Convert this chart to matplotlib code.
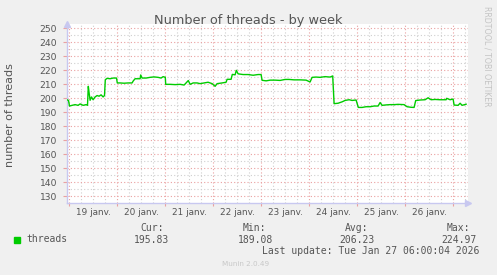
import matplotlib
matplotlib.use("Agg")
import matplotlib.pyplot as plt
from matplotlib.patches import Rectangle

# hours since 19 janv. 00:00
hours = [-1.2, -0.4, 0.1, 1.4, 2.9, 4.4, 5.4, 6.9, 8.4, 9.1, 9.5, 9.9, 10.4, 11.1, 11.9,
         12.9, 13.9, 14.9, 15.9, 16.9, 17.6, 18.0, 18.9, 20.4, 21.9, 23.6, 24.0, 25.4,
         27.4, 29.4, 31.4, 32.0, 32.9, 35.4, 35.7, 36.4, 38.4, 40.4, 42.4, 44.4, 45.9,
         46.9, 48.0, 48.2, 50.4, 52.9, 55.4, 57.4, 59.5, 60.4, 61.9, 63.9, 65.4, 67.4,
         69.4, 71.4, 72.9, 73.9, 76.4, 78.4, 78.9, 80.9, 81.5, 82.9, 83.5, 84.4, 86.9,
         89.4, 91.9, 94.4, 95.9, 96.4, 98.4, 100.4, 102.9, 105.4, 107.9, 109.9, 112.4,
         115.4, 118.4, 120.4, 121.4, 123.4, 125.4, 127.9, 130.4, 131.7, 132.4, 134.4,
         136.4, 137.9, 139.9, 141.4, 143.4, 144.5, 146.4, 148.4, 150.4, 152.4, 154.4,
         155.4, 156.4, 158.4, 160.4, 162.4, 164.4, 167.4, 168.9, 170.9, 172.4, 173.2,
         175.4, 177.9, 179.4, 180.9, 182.9, 185.4, 188.4, 188.7, 190.4, 191.9, 192.4,
         194.4, 195.4, 196.4, 198.4]
threads = [199.0, 198.5, 194.5, 195.0, 195.5, 195.0, 196.0, 195.0, 195.5, 195.0, 208.6, 204.0,
           198.6, 201.0, 199.0, 201.0, 202.0, 201.5, 202.5, 201.0, 202.0, 213.3, 214.3,
           214.0, 214.5, 214.5, 211.0, 211.0, 210.8, 211.0, 211.0, 212.5, 214.0, 214.0,
           216.7, 214.5, 214.5, 215.0, 215.3, 215.0, 214.5, 215.5, 215.0, 210.0, 210.0,
           209.8, 210.0, 209.5, 212.7, 210.0, 211.0, 211.0, 210.5, 211.0, 211.5, 210.5,
           208.6, 210.5, 211.0, 211.5, 213.6, 213.6, 217.1, 216.8, 220.0, 217.5, 217.0,
           217.0, 216.5, 217.0, 217.0, 212.9, 212.5, 213.0, 213.0, 212.8, 213.5, 213.5,
           213.2, 213.2, 213.0, 211.7, 215.0, 215.2, 215.0, 215.5, 215.2, 216.0, 196.2,
           196.5, 197.5, 198.5, 199.0, 198.5, 198.8, 193.5, 193.5, 194.0, 194.0, 194.5,
           194.5, 197.0, 195.0, 195.3, 195.5, 195.5, 195.7, 195.5, 194.0, 193.6, 193.5,
           198.4, 198.8, 199.0, 200.4, 199.0, 199.2, 199.0, 199.0, 200.0, 199.0, 199.5,
           195.2, 195.0, 196.5, 195.0, 195.8]

day_labels = ["19 janv.", "20 janv.", "21 janv.", "22 janv.", "23 janv.",
              "24 janv.", "25 janv.", "26 janv."]
y_ticks = list(range(130, 251, 10))

legend_name = "threads"
stat_names = ["Cur:", "Min:", "Avg:", "Max:"]
stat_values = ["195.83", "189.08", "206.23", "224.97"]
last_update = "Last update: Tue Jan 27 06:00:04 2026"

W, H = 497, 275
fig = plt.figure(figsize=(W / 100, H / 100), dpi=100, facecolor="#f0f0f0")


def fx(px):
    return px / W


def fy(py):
    return 1 - py / H


ax = fig.add_axes([fx(67), fy(203.3), fx(468.3) - fx(67), fy(24.3) - fy(203.3)])
ax.set_facecolor("white")
ax.set_xlim(-1.15, 199.5)
ax.set_ylim(125, 252.9)

red = "#eaa0a0"
grey = "#cfcfcf"
dots = (0, (1, 2))

# grid: grey every 6 h / 5 units, red at midnight / labelled values
for h in range(0, 200, 6):
    col = red if h % 24 == 0 else grey
    ax.axvline(h, color=col, lw=0.8, ls=dots, zorder=1)
for v in range(130, 253, 5):
    col = red if v % 10 == 0 else grey
    ax.axhline(v, color=col, lw=0.8, ls=dots, zorder=1)

ax.plot(hours, threads, color="#00cc00", lw=1, zorder=3)

for s in ["top", "right"]:
    ax.spines[s].set_visible(False)
for s in ["left", "bottom"]:
    ax.spines[s].set_color("#c8c8f0")
    ax.spines[s].set_linewidth(1)

ax.plot([0], [1.0], marker="^", ms=4, color="#c8c8f0", transform=ax.transAxes, clip_on=False)
ax.plot([1.0], [0], marker=">", ms=4, color="#c8c8f0", transform=ax.transAxes, clip_on=False)

ax.set_yticks(y_ticks)
ax.set_yticklabels([str(v) for v in y_ticks])
ax.tick_params(axis="y", length=3, color=red, pad=4, labelsize=6.6, labelcolor="#555555")

ax.set_xticks(range(0, 200, 24))
ax.set_xticklabels([])
ax.set_xticks([12 + 24 * i for i in range(len(day_labels))], minor=True)
ax.set_xticklabels(day_labels, minor=True)
ax.tick_params(axis="x", which="major", length=2.5, color=red)
ax.tick_params(axis="x", which="minor", length=0, pad=3.5, labelsize=6.4, labelcolor="#555555")

fig.text(0.5, fy(24), "Number of threads - by week", ha="center", va="baseline",
         fontsize=9.3, color="#555555")
fig.text(fx(10), fy(114.7), "number of threads", rotation=90, ha="center", va="center",
         fontsize=8, color="#555555")
fig.text(fx(487), fy(56), "RRDTOOL / TOBI OETIKER", rotation=270, ha="center", va="center",
         fontsize=5.7, color="#c4c4c4")

# legend block
fig.patches.append(Rectangle((fx(14), fy(242.5)), fx(6), fy(236.5) - fy(242.5),
                             transform=fig.transFigure, color="#00cc00"))
mono = "DejaVu Sans Mono"
fig.text(fx(26.7), fy(239.5), legend_name, family=mono, fontsize=7, color="#555555", va="center")
name_x = [140, 242.7, 345, 446.7]
value_x = [134, 237.7, 339, 441]
for nm, vl, nx, vx in zip(stat_names, stat_values, name_x, value_x):
    fig.text(fx(nx), fy(227.7), nm, family=mono, fontsize=7, color="#555555", va="center")
    fig.text(fx(vx), fy(239.7), vl, family=mono, fontsize=7, color="#555555", va="center")
fig.text(fx(261.7), fy(251), last_update, family=mono, fontsize=7, color="#555555", va="center")
fig.text(fx(222.3), fy(264), "Munin 2.0.49", fontsize=5.2, color="#c8c8c8", va="center")

fig.savefig("out.png", dpi=100, facecolor=fig.get_facecolor())
